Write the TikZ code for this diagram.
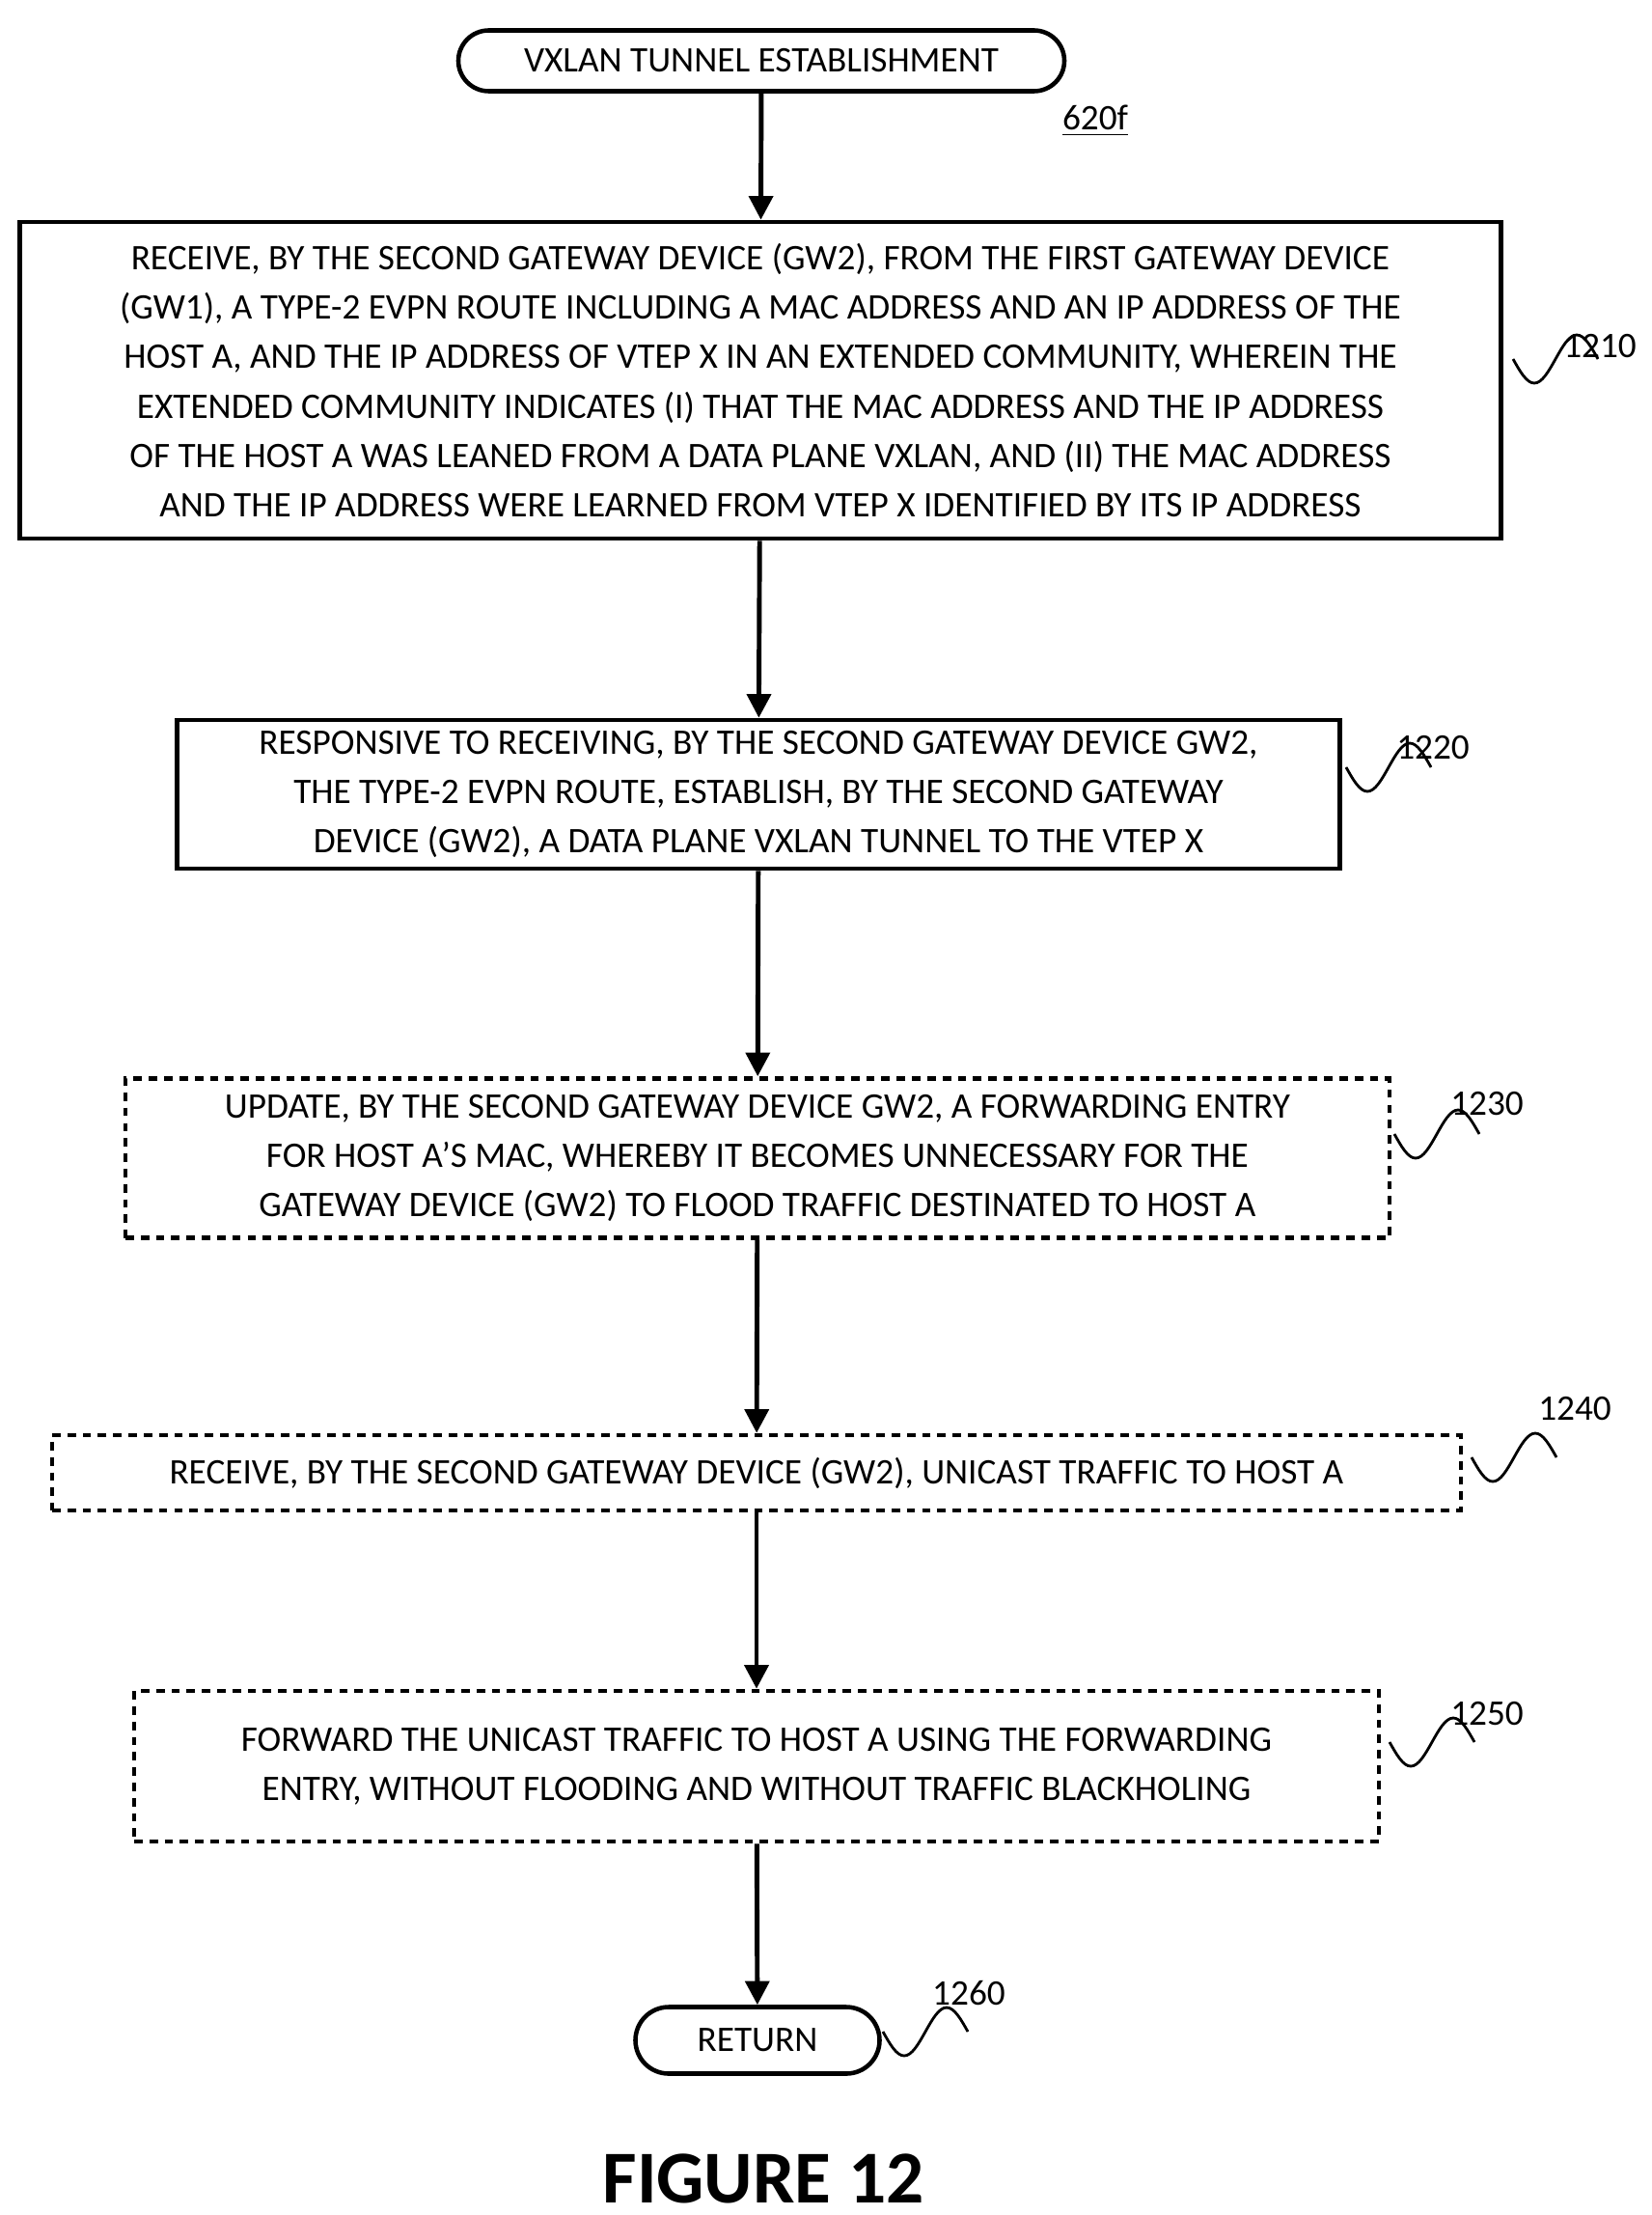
\documentclass[tikz,border=0pt]{standalone}
\usepackage{fontspec}
\setmainfont{Carlito}
\usetikzlibrary{arrows.meta,positioning,shapes.misc}

\tikzset{
  box/.style={draw, line width=1.3pt, align=center, inner sep=0pt, font=\fontsize{10.6}{14.6}\selectfont},
  opt/.style={box, dashed, dash pattern=on 2.5pt off 2pt},
  term/.style={draw, line width=1.3pt, rounded rectangle, align=center, inner sep=0pt, font=\fontsize{10.6}{14.6}\selectfont},
  flow/.style={-{Triangle[length=7pt,width=7pt]}, line width=1.4pt},
  ref/.style={font=\fontsize{10.6}{13}\selectfont},
  squig/.style={line width=0.8pt}
}
\newcommand{\wave}[1]{\draw[squig] (#1) sin ++(0.22,-0.25) cos ++(0.22,0.25) sin ++(0.22,0.25) cos ++(0.22,-0.25);}

\begin{document}
\begin{tikzpicture}
\useasboundingbox (0,0) rectangle (17.11,-22.95);

% terminals and steps
\node[term, minimum width=6.28cm, minimum height=0.63cm] (start) at (7.89,-0.63) {VXLAN TUNNEL ESTABLISHMENT};
\node[ref] (l620) at (11.35,-1.25) {\underline{620f}};

\node[box, minimum width=15.35cm, minimum height=3.28cm] (s1210) at (7.88,-3.94)
  {RECEIVE, BY THE SECOND GATEWAY DEVICE (GW2), FROM THE FIRST GATEWAY DEVICE\\
   (GW1), A TYPE-2 EVPN ROUTE INCLUDING A MAC ADDRESS AND AN IP ADDRESS OF THE\\
   HOST A, AND THE IP ADDRESS OF VTEP X IN AN EXTENDED COMMUNITY, WHEREIN THE\\
   EXTENDED COMMUNITY INDICATES (I) THAT THE MAC ADDRESS AND THE IP ADDRESS\\
   OF THE HOST A WAS LEANED FROM A DATA PLANE VXLAN, AND (II) THE MAC ADDRESS\\
   AND THE IP ADDRESS WERE LEARNED FROM VTEP X IDENTIFIED BY ITS IP ADDRESS};
\node[box, minimum width=12.05cm, minimum height=1.54cm] (s1220) at (7.86,-8.23)
  {RESPONSIVE TO RECEIVING, BY THE SECOND GATEWAY DEVICE GW2,\\
   THE TYPE-2 EVPN ROUTE, ESTABLISH, BY THE SECOND GATEWAY\\
   DEVICE (GW2), A DATA PLANE VXLAN TUNNEL TO THE VTEP X};
\node[opt, minimum width=13.1cm, minimum height=1.65cm] (s1230) at (7.85,-12.0)
  {UPDATE, BY THE SECOND GATEWAY DEVICE GW2, A FORWARDING ENTRY\\
   FOR HOST A'S MAC, WHEREBY IT BECOMES UNNECESSARY FOR THE\\
   GATEWAY DEVICE (GW2) TO FLOOD TRAFFIC DESTINATED TO HOST A};
\node[opt, minimum width=14.6cm, minimum height=0.78cm] (s1240) at (7.84,-15.26)
  {RECEIVE, BY THE SECOND GATEWAY DEVICE (GW2), UNICAST TRAFFIC TO HOST A};
\node[opt, minimum width=12.9cm, minimum height=1.56cm] (s1250) at (7.84,-18.3)
  {FORWARD THE UNICAST TRAFFIC TO HOST A USING THE FORWARDING\\
   ENTRY, WITHOUT FLOODING AND WITHOUT TRAFFIC BLACKHOLING};
\node[term, minimum width=2.53cm, minimum height=0.69cm] (ret) at (7.85,-21.14) {RETURN};

\node[font=\bfseries\fontsize{22}{26}\selectfont] (fig) at (7.91,-22.57) {FIGURE 12};

% flow
\draw[flow] (start) -- (s1210);
\draw[flow] (s1210) -- (s1220);
\draw[flow] (s1220) -- (s1230);
\draw[flow] (s1230) -- (s1240);
\draw[flow] (s1240) -- (s1250);
\draw[flow] (s1250) -- (ret);

% reference numerals
\node[ref] (l1210) at (16.58,-3.59) {1210};
\node[ref] (l1220) at (14.85,-7.75) {1220};
\node[ref] (l1230) at (15.41,-11.44) {1230};
\node[ref] (l1240) at (16.32,-14.6) {1240};
\node[ref] (l1250) at (15.41,-17.76) {1250};
\node[ref] (l1260) at (10.04,-20.65) {1260};

\coordinate (w1210) at (15.68,-3.72);
\coordinate (w1220) at (13.95,-7.95);
\coordinate (w1230) at (14.45,-11.75);
\coordinate (w1240) at (15.25,-15.1);
\coordinate (w1250) at (14.4,-18.05);
\coordinate (w1260) at (9.15,-21.05);
\foreach \w in {w1210,w1220,w1230,w1240,w1250,w1260}{
  \wave{\w}
}
\end{tikzpicture}
\end{document}
